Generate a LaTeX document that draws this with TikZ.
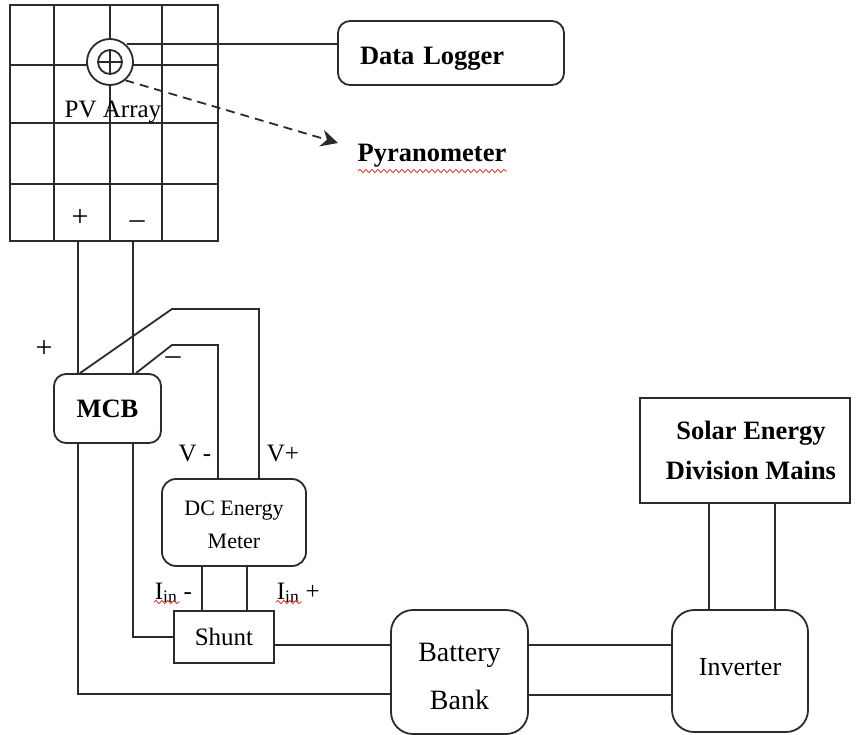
\documentclass[tikz,border=0pt]{standalone}
\usepackage{fontspec}
\setmainfont{Liberation Serif}
\usepackage{xcolor}
\usetikzlibrary{arrows.meta, calc, decorations.pathmorphing}
\definecolor{wirecol}{HTML}{2B2B2B}
\definecolor{spellred}{HTML}{E0403A}

\begin{document}
\begin{tikzpicture}[
    x=1pt, y=-1pt,
    line width=1.8pt, draw=wirecol,
    wire/.style={draw=wirecol, line width=1.8pt},
    block/.style={rectangle, rounded corners=#1, draw=wirecol, fill=white, inner sep=0pt, align=center},
    block/.default=12pt,
    lbl/.style={font=\fontsize{25}{28}\selectfont, inner sep=0pt},
    signlbl/.style={font=\fontsize{30}{30}\selectfont, inner sep=0pt},
    boldlbl/.style={font=\fontsize{26.5}{40}\selectfont\bfseries, inner sep=0pt},
    spell/.style={draw=spellred, line width=0.9pt, decorate, decoration={snake, amplitude=1.6pt, segment length=6pt}},
]
\useasboundingbox (0,0) rectangle (857,734);

% pv array
\node[rectangle, draw=wirecol, inner sep=0pt, minimum width=208pt, minimum height=236pt] (pv) at (114,123) {};
\foreach \xpos in {54,110,162} {
    \draw[wire] (\xpos,5) -- (\xpos,241);
}
\foreach \ypos in {65,123,184} {
    \draw[wire] (10,\ypos) -- (218,\ypos);
}
\node[circle, draw=wirecol, fill=white, minimum size=46pt, inner sep=0pt] (sensor) at (110,62) {};
\node[circle, draw=wirecol, minimum size=24pt, inner sep=0pt] (cell) at (110,62) {};
\draw[wire, line width=1.2pt] (cell.north) -- (cell.south);
\draw[wire, line width=1.2pt] (cell.west) -- (cell.east);
\node[lbl] (pvtext) at (113,112) {PV Array};
\node[signlbl] (pvplus) at (80,218) {+};
\node[signlbl] (pvminus) at (137,225) {--};

% blocks
\node[block=12pt, minimum width=226pt, minimum height=64pt, boldlbl, text height=22pt, text depth=0pt, text width=182pt, align=left] (logger) at (451,53) {Data Logger};
\node[boldlbl] (pyra) at (432,156) {Pyranometer};
\node[block=12pt, minimum width=107pt, minimum height=69pt, boldlbl] (mcb) at (107.5,408.5) {MCB};
\node[block=14pt, minimum width=144pt, minimum height=87pt, font=\fontsize{22}{33}\selectfont] (meter) at (234,522.5) {\rule{0pt}{19pt}DC Energy\\Meter};
\node[rectangle, draw=wirecol, fill=white, inner sep=0pt, minimum width=100pt, minimum height=52pt, lbl] (shunt) at (224,637) {Shunt};
\node[block=22pt, minimum width=137pt, minimum height=124pt, font=\fontsize{28}{48}\selectfont] (battery) at (459.5,672) {\rule{0pt}{27pt}Battery\\Bank};
\node[block=22pt, minimum width=136pt, minimum height=122pt, font=\fontsize{26}{30}\selectfont, text depth=8pt] (inverter) at (740,671) {Inverter};
\node[block=0pt, minimum width=210pt, minimum height=105pt, boldlbl] (mains) at (745,450.5) {\hspace*{12pt}Solar Energy\\\hspace*{12pt}Division Mains};

% wire labels
\node[signlbl] (mcbplus) at (44,349) {+};
\node[signlbl] (mcbminus) at (173,361) {--};
\node[lbl] (vminus) at (195,453) {V -};
\node[lbl] (vplus) at (283,453) {V+};
\node[lbl, anchor=base west] (iminus) at (154,599) {I\textsubscript{in} -};
\node[lbl, anchor=base west] (iplus) at (276,599) {I\textsubscript{in} +};

% sensor connectors
\draw[wire] (sensor.north east |- 0,44) -- (logger.west |- 0,44);
\draw[wire, dash pattern=on 9pt off 6pt, -{Stealth[length=17pt, width=17pt]}] (sensor.-50) -- (338,143);
\draw[spell] (358,171) -- ++(149,0);

% pv to mcb
\draw[wire] (pv.south -| 78,0) -- (mcb.north -| 78,0);
\draw[wire] (pv.south -| 133,0) -- (mcb.north -| 133,0);
\draw[wire] (mcb.north -| 80,0) -- (172,309) -- (259,309) -- (meter.north -| 259,0);
\draw[wire] (mcb.north -| 136,0) -- (172,345) -- (218,345) -- (meter.north -| 218,0);

% mcb to shunt and battery
\draw[wire] (mcb.south -| 78,0) -- (78,694) -- (battery.west |- 0,694);
\draw[wire] (mcb.south -| 133,0) -- (133,637) -- (shunt.west);

% meter to shunt
\draw[wire] (meter.south -| 202,0) -- (shunt.north -| 202,0);
\draw[wire] (meter.south -| 247,0) -- (shunt.north -| 247,0);
\draw[spell] (154,602) -- ++(26,0);
\draw[spell] (276,602) -- ++(26,0);

% shunt to battery to inverter to mains
\draw[wire] (shunt.east |- 0,645) -- (battery.west |- 0,645);
\draw[wire] (battery.east |- 0,645) -- (inverter.west |- 0,645);
\draw[wire] (battery.east |- 0,695) -- (inverter.west |- 0,695);
\draw[wire] (mains.south -| 709,0) -- (inverter.north -| 709,0);
\draw[wire] (mains.south -| 775,0) -- (inverter.north -| 775,0);

\end{tikzpicture}
\end{document}
